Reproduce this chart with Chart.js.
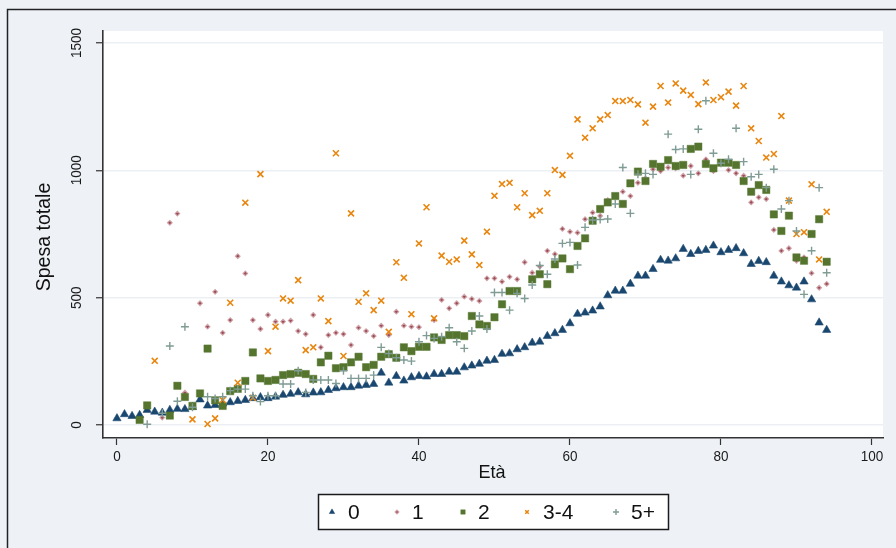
<!DOCTYPE html>
<html>
<head>
<meta charset="utf-8">
<script src="https://cdn.jsdelivr.net/npm/chart.js@4/dist/chart.umd.min.js"></script>
<style>
  html, body { margin: 0; padding: 0; background: #eef2f7; }
  #wrap { width: 896px; height: 548px; position: relative; }
</style>
</head>
<body>
<div id="wrap"><canvas id="c" width="896" height="548"></canvas></div>
<script>
// Età (anni)
const ages = [0,1,2,3,4,5,6,7,8,9,10,11,12,13,14,15,16,17,18,19,20,21,22,23,24,25,26,27,28,29,30,31,32,33,34,35,36,37,38,39,40,41,42,43,44,45,46,47,48,49,50,51,52,53,54,55,56,57,58,59,60,61,62,63,64,65,66,67,68,69,70,71,72,73,74,75,76,77,78,79,80,81,82,83,84,85,86,87,88,89,90,91,92,93,94];

// Spesa totale per numero di componenti (null = nessuna osservazione)
const spesa0 = [26,42,35,39,59,52,48,59,63,62,70,100,76,78,84,89,94,98,105,109,105,111,118,122,128,120,127,128,137,144,148,148,154,157,161,205,166,192,174,187,192,190,200,200,209,209,226,233,240,252,255,279,281,297,305,323,327,349,360,373,399,436,441,449,465,509,527,527,554,586,586,612,648,645,654,691,671,683,687,704,678,687,694,674,632,644,639,586,563,548,539,563,493,402,373];
const spesa1 = [null,null,null,null,null,null,29,794,830,127,null,478,386,523,362,412,663,595,412,377,432,406,406,410,369,357,432,305,353,362,357,314,382,369,349,390,353,445,390,386,384,null,412,491,458,478,504,495,487,576,576,563,582,572,639,598,622,684,671,770,759,755,808,834,821,883,null,916,899,951,968,1004,997,1011,1008,979,1017,988,1043,997,null,1001,988,979,874,894,887,766,684,694,645,658,596,539,554];
const spesa2 = [null,null,null,20,77,null,null,37,154,110,75,124,300,97,75,133,142,173,285,183,173,177,196,200,205,200,181,246,272,223,227,246,268,227,236,268,278,264,305,290,307,307,344,334,353,353,349,428,395,389,423,474,526,526,null,572,592,553,631,654,612,703,733,802,848,874,899,868,949,995,958,1025,1014,1040,1017,1021,1084,1093,1025,1008,1030,1030,1021,958,916,942,923,827,762,822,658,645,750,808,641];
const spesa34 = [null,null,null,null,null,252,null,null,null,null,22,null,4,26,98,480,166,873,107,985,290,386,497,488,569,294,305,497,408,1067,271,831,484,517,451,488,366,639,578,435,713,855,419,665,641,650,724,670,628,759,900,946,951,855,910,824,841,910,1001,982,1057,1200,1128,1165,1200,1217,1272,1272,1276,1259,1187,1250,1331,1266,1341,1313,1296,1260,1345,1276,1287,1309,1254,1331,1165,1115,1050,1064,1213,881,750,757,945,650,837];
const spesa5 = [null,null,null,null,3,null,46,310,93,386,70,null,111,104,111,135,141,141,115,92,115,115,161,161,213,128,177,177,177,163,213,183,183,183,196,305,281,264,255,251,327,351,340,347,382,327,301,369,428,377,520,520,451,517,497,550,626,592,652,713,717,628,776,805,807,809,868,1011,831,985,988,984,null,1142,1082,1084,984,1161,1273,1067,1028,1043,1165,1034,975,984,932,1004,848,881,762,513,684,932,598];

const seriesNames = ['0', '1', '2', '3-4', '5+'];
const xTickValues = [0, 20, 40, 60, 80, 100];
const yTickValues = [0, 500, 1000, 1500];
const xTitle = 'Età';
const yTitle = 'Spesa totale';

const FONT = '"Liberation Sans", Arial, Helvetica, sans-serif';

function points(values) {
  const out = [];
  ages.forEach((a, i) => { if (values[i] !== null) out.push({ x: a, y: values[i] }); });
  return out;
}

// marker look for each household size
const markers = [
  { pointStyle: 'triangle', radius: 4.8, backgroundColor: '#1a476f', borderColor: 'rgba(26,71,111,0.55)', borderWidth: 1 },
  { pointStyle: 'rectRot',  radius: 2.3, backgroundColor: '#9c4a52', borderColor: 'rgba(205,160,166,0.9)', borderWidth: 1.2 },
  { pointStyle: 'rect',     radius: 5.2, backgroundColor: '#55752f', borderColor: 'rgba(85,117,47,0.45)', borderWidth: 1 },
  { pointStyle: 'crossRot', radius: 4.2, backgroundColor: '#e37e00', borderColor: '#e8860f', borderWidth: 1.6 },
  { pointStyle: 'cross',    radius: 4.0, backgroundColor: '#7f9c94', borderColor: '#7f9c94', borderWidth: 1.4 }
];
const seriesValues = [spesa0, spesa1, spesa2, spesa34, spesa5];

const datasets = seriesValues.map((vals, i) => ({
  label: seriesNames[i],
  data: points(vals),
  pointStyle: markers[i].pointStyle,
  pointRadius: markers[i].radius,
  pointHoverRadius: markers[i].radius,
  pointBackgroundColor: markers[i].backgroundColor,
  pointBorderColor: markers[i].borderColor,
  pointBorderWidth: markers[i].borderWidth,
  showLine: false,
  order: seriesValues.length - i   // later groups drawn on top
}));

function drawText(ctx, s, x, y, size, opt) {
  opt = opt || {};
  ctx.save();
  ctx.translate(x, y);
  if (opt.rot) ctx.rotate(opt.rot);
  if (opt.sx) ctx.scale(opt.sx, 1);
  ctx.font = size + 'px ' + FONT;
  ctx.textAlign = opt.align || 'center';
  ctx.textBaseline = opt.baseline || 'middle';
  ctx.fillStyle = opt.color || '#111';
  ctx.fillText(s, 0, 0);
  ctx.restore();
}

const frame = {
  id: 'frame',
  beforeDraw(chart) {
    const ctx = chart.ctx, a = chart.chartArea;
    ctx.save();
    ctx.fillStyle = '#eef2f7';
    ctx.fillRect(0, 0, chart.width, chart.height);
    ctx.strokeStyle = '#222';
    ctx.lineWidth = 1.5;
    ctx.strokeRect(7.5, 9.5, chart.width + 10, chart.height + 10);
    ctx.fillStyle = '#ffffff';
    ctx.fillRect(a.left, a.top, a.right - a.left, a.bottom - a.top);
    ctx.restore();
  },
  afterDraw(chart) {
    const ctx = chart.ctx;
    const xs = chart.scales.x, ys = chart.scales.y;
    // tick labels
    xTickValues.forEach(v => drawText(ctx, String(v), xs.getPixelForValue(v), 457, 15, { sx: 0.9, color: '#1a1a1a' }));
    yTickValues.forEach(v => drawText(ctx, String(v), 77, ys.getPixelForValue(v), 15, { rot: -Math.PI / 2, sx: 0.9, color: '#1a1a1a' }));
    // axis titles
    drawText(ctx, xTitle, 492, 473, 19, { sx: 0.95, color: '#111' });
    drawText(ctx, yTitle, 44, 237, 21, { rot: -Math.PI / 2, sx: 0.93, color: '#111' });

    // legend
    ctx.save();
    ctx.fillStyle = '#ffffff';
    ctx.fillRect(318.5, 494.5, 350, 35);
    ctx.strokeStyle = '#1a1a1a';
    ctx.lineWidth = 1.5;
    ctx.strokeRect(318.5, 494.5, 350, 35);
    ctx.restore();
    const legendMarkerX = [332, 397, 463, 527, 616];
    const legendTextX = [348, 412, 478, 543, 631];
    const legendScale = [0.65, 0.8, 0.6, 0.6, 0.75];
    markers.forEach((m, i) => {
      ctx.save();
      ctx.fillStyle = m.backgroundColor;
      ctx.strokeStyle = m.borderColor;
      ctx.lineWidth = m.borderWidth;
      Chart.helpers.drawPoint(ctx, { pointStyle: m.pointStyle, radius: m.radius * legendScale[i], rotation: 0, borderWidth: m.borderWidth }, legendMarkerX[i], 512);
      ctx.restore();
      drawText(ctx, seriesNames[i], legendTextX[i], 519, 21, { align: 'left', baseline: 'alphabetic', color: '#111' });
    });
  }
};

new Chart(document.getElementById('c'), {
  type: 'scatter',
  data: { datasets },
  options: {
    responsive: false,
    animation: false,
    events: [],
    layout: { padding: { left: 0, right: 13, top: 31, bottom: 0 } },
    plugins: { legend: { display: false }, tooltip: { enabled: false } },
    scales: {
      x: {
        type: 'linear', min: -1.85, max: 101.46,
        afterBuildTicks: s => { s.ticks = xTickValues.map(v => ({ value: v })); },
        afterFit: s => { s.height = 110; },
        ticks: { display: false },
        grid: { drawOnChartArea: false, drawTicks: true, tickLength: 7, tickColor: '#333', tickWidth: 1.2 },
        border: { display: true, color: '#333', width: 1.6 }
      },
      y: {
        type: 'linear', min: -51, max: 1547,
        afterBuildTicks: s => { s.ticks = yTickValues.map(v => ({ value: v })); },
        afterFit: s => { s.width = 103; },
        ticks: { display: false },
        grid: { color: '#eceff3', lineWidth: 1.5, drawTicks: true, tickLength: 7, tickColor: '#333', tickWidth: 1.2 },
        border: { display: true, color: '#333', width: 1.6 }
      }
    }
  },
  plugins: [frame]
});
</script>
</body>
</html>
